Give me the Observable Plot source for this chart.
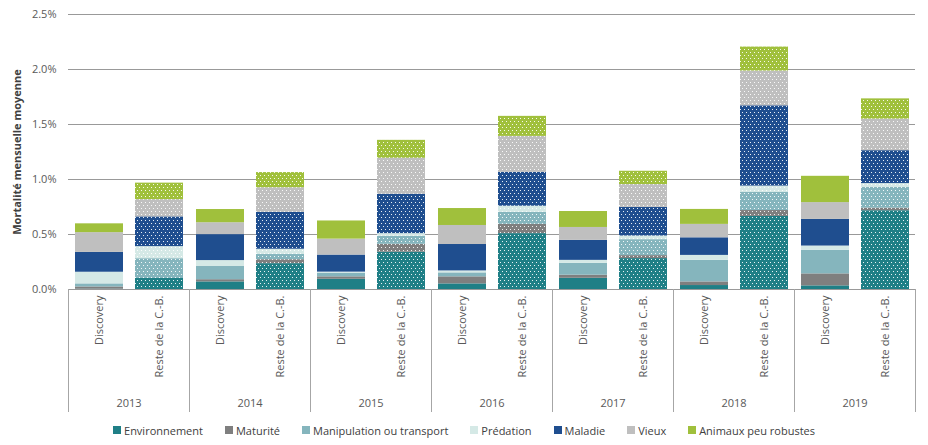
<!DOCTYPE html>
<html>
<head>
<meta charset="utf-8">
<script src="https://cdn.jsdelivr.net/npm/d3@7"></script>
<script src="https://cdn.jsdelivr.net/npm/@observablehq/plot@0.6"></script>
<style>
  body { margin: 0; background: #fff; font-family: "Open Sans", sans-serif; }
  #legend { display: flex; justify-content: center; gap: 22px; font-size: 11px; color: #404040; height: 24px; align-items: center; width: 928px; }
  #legend span.item { display: inline-flex; align-items: center; }
  #legend i { display: inline-block; width: 8px; height: 8px; margin-right: 3px; }
</style>
</head>
<body>
<div id="chart"></div>
<div id="legend"></div>
<script>
// ---- data (values in % per month) ----
const years = [2013, 2014, 2015, 2016, 2017, 2018, 2019];
const sites = ["Discovery", "Reste de la C.-B."];
const causes = ["Environnement", "Maturité", "Manipulation ou transport", "Prédation", "Maladie", "Vieux", "Animaux peu robustes"];
const colors = ["#1f7f86", "#7f7f7f", "#85b5bd", "#d5e9e6", "#1f4e8f", "#bfbfbf", "#a0c03c"];
// order: 2013 Discovery, 2013 Reste, 2014 Discovery, 2014 Reste, ...
const environnement = [0.003, 0.100, 0.069, 0.235, 0.093, 0.339, 0.051, 0.508, 0.102, 0.281, 0.036, 0.664, 0.033, 0.716];
const maturite      = [0.020, 0.000, 0.020, 0.036, 0.022, 0.072, 0.064, 0.084, 0.028, 0.027, 0.033, 0.054, 0.109, 0.024];
const manipulation  = [0.028, 0.180, 0.120, 0.047, 0.033, 0.073, 0.036, 0.110, 0.108, 0.145, 0.196, 0.164, 0.214, 0.190];
const predation     = [0.106, 0.110, 0.054, 0.048, 0.010, 0.024, 0.018, 0.055, 0.027, 0.033, 0.045, 0.058, 0.039, 0.033];
const maladie       = [0.180, 0.270, 0.236, 0.335, 0.155, 0.358, 0.240, 0.308, 0.182, 0.260, 0.160, 0.730, 0.242, 0.299];
const vieux         = [0.180, 0.157, 0.108, 0.224, 0.145, 0.327, 0.173, 0.327, 0.117, 0.208, 0.122, 0.316, 0.153, 0.287];
const animaux       = [0.080, 0.150, 0.120, 0.138, 0.165, 0.163, 0.154, 0.182, 0.145, 0.121, 0.136, 0.218, 0.239, 0.184];
const yTicks = [0, 0.5, 1.0, 1.5, 2.0, 2.5];

const series = [environnement, maturite, manipulation, predation, maladie, vieux, animaux];
const data = [];
years.forEach((year, yi) => {
  sites.forEach((site, si) => {
    causes.forEach((cause, ci) => {
      data.push({year, site, cause, value: series[ci][yi * 2 + si]});
    });
  });
});
const resteData = data.filter(d => d.site === sites[1]);

const separators = (index, scales, values, dims) => {
  const g = d3.create("svg:g").attr("stroke", "#a6a6a6").attr("stroke-width", 1);
  const yTop = dims.height - dims.marginBottom;
  const yBot = dims.height - 6;
  for (const x of [dims.marginLeft, dims.width - dims.marginRight]) {
    g.append("line").attr("x1", x + 0.5).attr("x2", x + 0.5).attr("y1", yTop).attr("y2", yBot);
  }
  return g.node();
};

const svg = Plot.plot({
  width: 928,
  height: 418,
  marginTop: 14,
  marginBottom: 129,
  marginLeft: 66,
  marginRight: 12,
  style: {fontFamily: "Open Sans, sans-serif", fontSize: "11px", color: "#595959", background: "#fff"},
  fx: {domain: years, padding: 0},
  x: {domain: sites, paddingInner: 0.2, paddingOuter: 0.1},
  y: {domain: [0, 2.5]},
  color: {domain: causes, range: colors},
  marks: [
    Plot.gridY(yTicks, {stroke: "#999", strokeOpacity: 1}),
    Plot.barY(data, Plot.stackY({fx: "year", x: "site", y: "value", fill: "cause", inset: 0})),
    Plot.barY(resteData, Plot.stackY({fx: "year", x: "site", y: "value", z: "cause", fill: "url(#dots)", inset: 0})),
    Plot.axisY(yTicks, {tickSize: 0, tickPadding: 12, tickFormat: d => d.toFixed(1) + "%",
      label: "Mortalité mensuelle moyenne", labelAnchor: "center", labelArrow: "none", labelOffset: 55}),
    Plot.axisX({tickSize: 0, tickPadding: 6, tickRotate: -90, label: null}),
    Plot.axisFx({anchor: "bottom", tickSize: 0, tickPadding: 110, label: null, tickFormat: d => String(d)}),
    separators
  ]
});

const defs = d3.select(svg).insert("defs", ":first-child");
const pat = defs.append("pattern").attr("id", "dots").attr("patternUnits", "userSpaceOnUse").attr("width", 4).attr("height", 6);
pat.append("rect").attr("x", 1).attr("y", 1).attr("width", 1).attr("height", 1).attr("fill", "#fff").attr("fill-opacity", 0.9);
pat.append("rect").attr("x", 3).attr("y", 4).attr("width", 1).attr("height", 1).attr("fill", "#fff").attr("fill-opacity", 0.9);

const lab = svg.querySelector('[aria-label="y-axis label"]');
if (lab) { lab.setAttribute("font-weight", "bold"); lab.setAttribute("fill", "#404040"); }

document.getElementById("chart").appendChild(svg);

const legend = d3.select("#legend");
causes.forEach((c, i) => {
  const it = legend.append("span").attr("class", "item");
  it.append("i").style("background", colors[i]);
  it.append("span").text(c);
});
</script>
</body>
</html>
